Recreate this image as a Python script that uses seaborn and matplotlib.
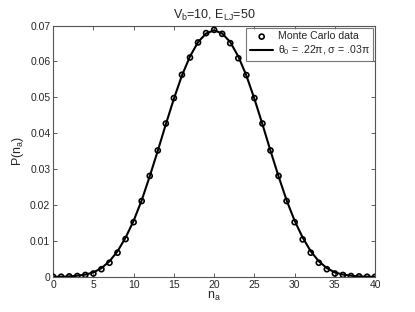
import matplotlib
matplotlib.use('Agg')
import matplotlib.pyplot as plt
import pandas as pd
import seaborn as sns

# values
n_a = list(range(41))
mc_prob = [0.0000, 0.0000, 0.0001, 0.0002, 0.0005, 0.0009, 0.0021, 0.0039, 0.0067, 0.0105,
           0.0152, 0.0211, 0.0281, 0.0352, 0.0427, 0.0498, 0.0563, 0.0611, 0.0653, 0.0679,
           0.0688, 0.0677, 0.0651, 0.0609, 0.0562, 0.0498, 0.0427, 0.0352, 0.0281, 0.0211,
           0.0152, 0.0104, 0.0067, 0.0039, 0.0021, 0.0009, 0.0005, 0.0002, 0.0001, 0.0000,
           0.0000]
fit_prob = [0.0000, 0.0000, 0.0001, 0.0003, 0.0006, 0.0012, 0.0024, 0.0043, 0.0071, 0.0109,
            0.0156, 0.0213, 0.0280, 0.0351, 0.0425, 0.0496, 0.0561, 0.0614, 0.0654, 0.0678,
            0.0687, 0.0678, 0.0654, 0.0614, 0.0561, 0.0496, 0.0425, 0.0351, 0.0280, 0.0213,
            0.0156, 0.0109, 0.0071, 0.0043, 0.0024, 0.0012, 0.0006, 0.0003, 0.0001, 0.0000,
            0.0000]
x_ticks = [0, 5, 10, 15, 20, 25, 30, 35, 40]
y_ticks = [0, 0.01, 0.02, 0.03, 0.04, 0.05, 0.06, 0.07]

df = pd.DataFrame({'n': n_a, 'mc': mc_prob, 'fit': fit_prob})

sns.set_style('ticks')
plt.rcParams['font.family'] = ['Liberation Sans', 'DejaVu Sans']
plt.rcParams['mathtext.fontset'] = 'custom'
plt.rcParams['mathtext.rm'] = 'Liberation Sans'
plt.rcParams['mathtext.it'] = 'Liberation Sans:italic'

fig = plt.figure(figsize=(4.15, 3.12), dpi=100)
ax = fig.add_axes([0.128, 0.113, 0.776, 0.805])

sns.scatterplot(data=df, x='n', y='mc', ax=ax, marker='o', s=13, facecolor='none',
                edgecolor='black', linewidth=1.2, label='Monte Carlo data', zorder=3)
sns.lineplot(data=df, x='n', y='fit', ax=ax, color='black', linewidth=1.5,
             label=r'$\mathregular{\theta_0}$ = .22$\mathregular{\pi}$, '
                   r'$\mathregular{\sigma}$ = .03$\mathregular{\pi}$', zorder=2)

ax.set_xlim(0, 40)
ax.set_ylim(0, 0.07)
ax.set_xticks(x_ticks)
ax.set_yticks(y_ticks)
ax.set_yticklabels(['0', '0.01', '0.02', '0.03', '0.04', '0.05', '0.06', '0.07'])
ax.tick_params(direction='in', top=True, right=True, labelsize=7.5, length=3,
               width=0.6, color='#444444', pad=2)
for sp in ax.spines.values():
    sp.set_visible(True)
    sp.set_color('#555555')
    sp.set_linewidth(0.8)

ax.set_xlabel(r'$\mathregular{n_a}$', fontsize=9, labelpad=0.5)
ax.set_ylabel(r'$\mathregular{P(n_a)}$', fontsize=9, labelpad=3)
ax.set_title(r'$\mathregular{V_b}$=10, $\mathregular{E_{LJ}}$=50', fontsize=9, pad=5)

leg = ax.legend(loc='upper right', fontsize=7.6, frameon=True, fancybox=False,
                borderaxespad=0.2, handlelength=2.2, handletextpad=0.4,
                borderpad=0.35, labelspacing=0.2)
leg.get_frame().set_edgecolor('#555555')
leg.get_frame().set_linewidth(0.8)

fig.savefig('out.png', dpi=100)
